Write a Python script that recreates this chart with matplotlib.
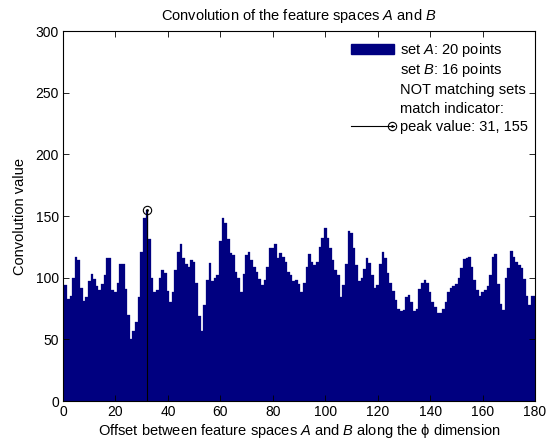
import numpy as np
import matplotlib
matplotlib.use("Agg")
import matplotlib.pyplot as plt
from matplotlib.patches import Patch, Rectangle
from matplotlib.lines import Line2D
from matplotlib.legend_handler import HandlerBase, HandlerPatch

plt.rcParams['font.family'] = ['Liberation Sans', 'DejaVu Sans']
plt.rcParams['mathtext.fontset'] = 'custom'
plt.rcParams['mathtext.rm'] = 'Liberation Sans'
plt.rcParams['mathtext.it'] = 'Liberation Sans:italic'
FS = 10.5
TICK_FS = 10
plt.rcParams['font.size'] = FS

# convolution value per offset step (offsets 1..180)
conv_values = [
    94, 83, 85, 100, 117, 114, 92, 81, 84, 97,
    103, 99, 93, 90, 95, 102, 116, 116, 90, 88,
    96, 111, 111, 91, 70, 50, 57, 64, 84, 121,
    148, 155, 131, 100, 88, 90, 100, 106, 104, 89,
    80, 88, 106, 121, 127, 116, 111, 109, 114, 113,
    96, 69, 57, 78, 98, 112, 97, 100, 102, 130,
    148, 144, 131, 120, 118, 105, 100, 88, 103, 118,
    121, 114, 109, 105, 99, 94, 98, 109, 124, 124,
    127, 116, 120, 117, 113, 105, 102, 97, 98, 95,
    88, 96, 109, 119, 113, 110, 113, 125, 132, 140,
    132, 124, 114, 106, 102, 84, 94, 111, 138, 136,
    124, 110, 97, 100, 107, 116, 112, 102, 92, 94,
    111, 121, 116, 104, 96, 89, 82, 75, 73, 74,
    84, 86, 80, 73, 75, 91, 96, 98, 96, 88,
    80, 76, 71, 71, 75, 80, 88, 92, 93, 95,
    100, 108, 115, 116, 117, 109, 98, 90, 85, 88,
    90, 93, 102, 117, 119, 95, 79, 74, 100, 108,
    122, 117, 113, 110, 108, 99, 85, 78, 85, 85,
]
offsets = np.arange(1, len(conv_values) + 1)

peak_index = 31
peak_value = 155
n_points_a = 20
n_points_b = 16

x_ticks = [0, 20, 40, 60, 80, 100, 120, 140, 160, 180]
y_ticks = [0, 50, 100, 150, 200, 250, 300]

BAR_COLOR = '#000080'


class PeakHandler(HandlerBase):
    # line with the ringed marker sitting at its right end
    def create_artists(self, legend, orig_handle, xdescent, ydescent,
                       width, height, fontsize, trans):
        y = height / 2 - ydescent
        x0, x1 = -xdescent, width - xdescent
        line = Line2D([x0, x1], [y, y], color='k', lw=0.8)
        ring = Line2D([x1 - 2], [y], marker='o', mfc='none', mec='k',
                      mew=0.8, ms=6, ls='none')
        dot = Line2D([x1 - 2], [y], marker='.', color='k', ms=2, ls='none')
        for a in (line, ring, dot):
            a.set_transform(trans)
        return [line, ring, dot]


def flat_patch(legend, orig_handle, xdescent, ydescent, width, height, fontsize):
    # shorter swatch than the legend row height
    h = height * 0.62
    return Rectangle((-xdescent, -ydescent + (height - h) / 2), width, h)


fig = plt.figure(figsize=(5.51, 4.41), dpi=100)
ax = fig.add_axes([0.1143, 0.0907, 0.8567, 0.839])

ax.bar(offsets, conv_values, width=1.0, color=BAR_COLOR,
       edgecolor=BAR_COLOR, linewidth=0.2)

peak_x = offsets[peak_index]
peak_line, = ax.plot([peak_x, peak_x], [0, peak_value], color='k', lw=0.8)
ax.plot([peak_x], [peak_value], marker='o', mfc='none', mec='k', mew=0.8,
        ms=6, ls='none')
ax.plot([peak_x], [peak_value], marker='.', color='k', ms=2, ls='none')

ax.set_xlim(0, 180)
ax.set_ylim(0, 300)
ax.set_xticks(x_ticks)
ax.set_yticks(y_ticks)
ax.tick_params(direction='in', top=True, right=True, length=4, width=0.6,
               labelsize=TICK_FS, pad=3)
for s in ax.spines.values():
    s.set_linewidth(0.8)

ax.set_title('Convolution of the feature spaces $\\it{A}$ and $\\it{B}$',
             fontsize=FS, pad=8)
ax.set_xlabel('Offset between feature spaces $\\it{A}$ and $\\it{B}$ along the \u03d5 dimension',
              fontsize=FS, labelpad=2)
ax.set_ylabel('Convolution value', fontsize=FS, labelpad=6)

blank = Line2D([], [], ls='none')
set_a_patch = Patch(fc=BAR_COLOR, ec=BAR_COLOR)
handles = [set_a_patch, blank, blank, blank, peak_line]
labels = [
    'set $\\it{A}$: %d points' % n_points_a,
    'set $\\it{B}$: %d points' % n_points_b,
    'NOT matching sets',
    'match indicator:',
    'peak value: %d, %d' % (peak_index, peak_value),
]
ax.legend(handles, labels, loc='upper left', bbox_to_anchor=(0.611, 0.974),
          frameon=False, borderpad=0, borderaxespad=0, handlelength=2.95,
          handleheight=1.3, handletextpad=0.41, labelspacing=0.17,
          fontsize=FS,
          handler_map={peak_line: PeakHandler(),
                       set_a_patch: HandlerPatch(patch_func=flat_patch)})

fig.savefig('out.png', dpi=100)
